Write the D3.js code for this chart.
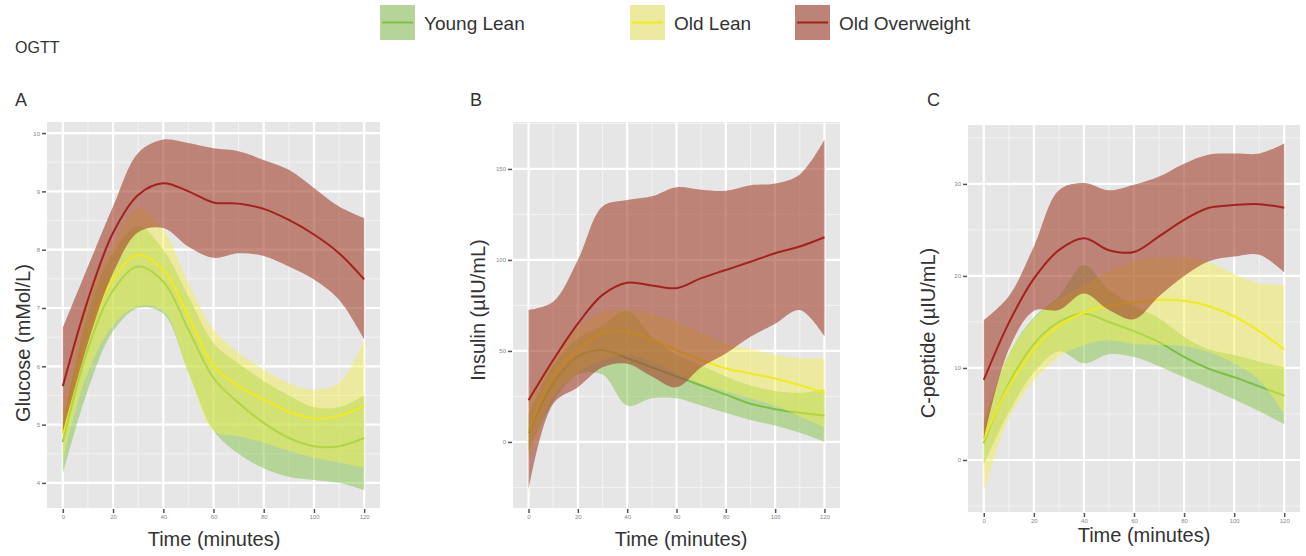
<!DOCTYPE html>
<html>
<head>
<meta charset="utf-8">
<script src="https://cdn.jsdelivr.net/npm/d3@7.9.0/dist/d3.min.js"></script>
<style>
  body { margin: 0; background: #fff; }
  text { font-family: "Liberation Sans", "DejaVu Sans", sans-serif; }
</style>
</head>
<body>
<svg id="chart" width="1306" height="556"></svg>
<script>
const minutes = [0, 10, 20, 30, 40, 50, 60, 70, 80, 90, 100, 110, 120];
const groups = ['Young Lean', 'Old Lean', 'Old Overweight'];

// glucose (mMol/L)
const glucoseYoungMean = [4.7, 6.3, 7.3, 7.71, 7.45, 6.63, 5.8, 5.37, 5.03, 4.77, 4.63, 4.63, 4.77];
const glucoseYoungLow  = [4.15, 5.6, 6.6, 7.0, 6.9, 5.9, 4.9, 4.5, 4.25, 4.1, 4.05, 4.0, 3.88];
const glucoseYoungHigh = [5.0, 6.9, 7.95, 8.4, 8.0, 7.2, 6.4, 6.05, 5.75, 5.5, 5.3, 5.3, 5.5];
const glucoseOldMean   = [4.85, 6.5, 7.5, 7.91, 7.65, 6.86, 6.0, 5.66, 5.43, 5.22, 5.11, 5.15, 5.32];
const glucoseOldLow    = [4.4, 5.9, 6.7, 7.03, 6.95, 5.9, 4.9, 4.8, 4.69, 4.55, 4.43, 4.35, 4.26];
const glucoseOldHigh   = [5.3, 7.1, 8.1, 8.7, 8.35, 7.43, 6.63, 6.23, 5.94, 5.71, 5.6, 5.71, 6.46];
const glucoseOwMean    = [5.66, 7.14, 8.29, 8.94, 9.14, 9.0, 8.81, 8.79, 8.7, 8.51, 8.26, 7.94, 7.49];
const glucoseOwLow     = [4.86, 6.4, 7.6, 8.3, 8.37, 8.05, 7.86, 7.94, 7.89, 7.71, 7.49, 7.14, 6.46];
const glucoseOwHigh    = [6.66, 7.71, 8.74, 9.66, 9.89, 9.83, 9.74, 9.69, 9.54, 9.37, 9.06, 8.74, 8.54];

// insulin (µIU/mL)
const insulinYoungMean = [5, 32, 47, 50.5, 46, 41, 36, 31, 26, 21, 18, 16, 14.5];
const insulinYoungLow  = [-5, 22, 37, 37, 20, 24, 24, 20, 16, 12, 9, 5, 0];
const insulinYoungHigh = [15, 42, 57, 64, 72, 58, 48, 42, 36, 31, 28, 27, 29];
const insulinOldMean   = [5.5, 36, 50.5, 59.7, 60.6, 56, 50.5, 45, 40.4, 37.6, 34.9, 31.2, 27];
const insulinOldLow    = [-10, 25, 38, 45, 48, 44, 38, 32, 28, 24, 20, 14, 8];
const insulinOldHigh   = [25, 46, 63, 71, 73, 70, 66, 60, 54, 51, 48, 46, 46];
const insulinOwMean    = [22.9, 45, 65, 80.8, 87.5, 86, 84.5, 90, 94.5, 99, 103.7, 107.4, 112.5];
const insulinOwLow     = [-26.6, 21, 30, 41, 43, 36, 30, 41, 48.6, 57.8, 65, 72.5, 58];
const insulinOwHigh    = [72.5, 77, 100, 129.4, 133, 135, 140, 138.6, 138, 141, 142, 147, 166];

// C-peptide (µIU/mL)
const cpepYoungMean = [1.8, 8.3, 12.6, 15.0, 15.9, 15.0, 14.0, 12.8, 11.2, 9.9, 9.0, 8.0, 7.0];
const cpepYoungLow  = [-0.5, 5.2, 9.5, 11.8, 10.5, 11.5, 11.2, 10.2, 9.0, 7.8, 6.6, 5.3, 3.9];
const cpepYoungHigh = [4.0, 11.5, 15.5, 17.8, 21.2, 18.5, 16.8, 15.4, 13.4, 12.0, 11.4, 10.7, 10.1];
const cpepOldMean   = [2.3, 8.0, 12.0, 14.6, 16.0, 16.8, 17.1, 17.4, 17.3, 16.7, 15.6, 14.0, 12.0];
const cpepOldLow    = [-3.5, 4.5, 8.6, 11.2, 12.5, 13.0, 12.6, 12.5, 12.4, 11.7, 10.5, 8.7, 5.0];
const cpepOldHigh   = [4.5, 11.5, 15.3, 17.5, 19.0, 20.5, 21.6, 22.0, 22.0, 21.5, 20.2, 19.2, 19.0];
const cpepOwMean    = [8.7, 14.9, 19.7, 22.8, 24.1, 22.8, 22.6, 24.3, 26.1, 27.4, 27.7, 27.8, 27.4];
const cpepOwLow     = [2.2, 12.0, 16.2, 16.3, 18.1, 16.3, 15.3, 17.8, 20.0, 21.6, 22.1, 22.3, 20.4];
const cpepOwHigh    = [15.2, 17.8, 23.2, 29.3, 30.1, 29.3, 29.9, 30.8, 32.2, 33.2, 33.3, 33.3, 34.4];

const xTicks = [0, 20, 40, 60, 80, 100, 120];
const glucoseTicks = [4, 5, 6, 7, 8, 9, 10];
const insulinTicks = [0, 50, 100, 150];
const cpepTicks = [0, 10, 20, 30];

const lineColors = ['#7cc043', '#f2ea1b', '#a3221d'];
const bandColors = ['#80c242', '#f5ef48', '#a3412d'];
const bandOpacity = [0.48, 0.45, 0.6];

const panels = [
  { letter: 'A', title: 'Glucose (mMol/L)', box: [47, 122, 380, 508], y: [3.57, 10.19], ticks: glucoseTicks, minorStep: 0.5,
    series: [[glucoseYoungMean, glucoseYoungLow, glucoseYoungHigh], [glucoseOldMean, glucoseOldLow, glucoseOldHigh], [glucoseOwMean, glucoseOwLow, glucoseOwHigh]],
    letterX: 15, titleX: 30, titleY: 343, xTitleX: 214, xTitleY: 546 },
  { letter: 'B', title: 'Insulin (µIU/mL)', box: [513, 122, 840, 508], y: [-36.3, 175.8], ticks: insulinTicks, minorStep: 25,
    series: [[insulinYoungMean, insulinYoungLow, insulinYoungHigh], [insulinOldMean, insulinOldLow, insulinOldHigh], [insulinOwMean, insulinOwLow, insulinOwHigh]],
    letterX: 470, titleX: 485, titleY: 310, xTitleX: 681, xTitleY: 546 },
  { letter: 'C', title: 'C-peptide (µIU/mL)', box: [968, 125, 1300, 512], y: [-5.65, 36.4], ticks: cpepTicks, minorStep: 5,
    series: [[cpepYoungMean, cpepYoungLow, cpepYoungHigh], [cpepOldMean, cpepOldLow, cpepOldHigh], [cpepOwMean, cpepOwLow, cpepOwHigh]],
    letterX: 927, titleX: 935, titleY: 333, xTitleX: 1144, xTitleY: 542 }
];

const svg = d3.select('#chart');

svg.append('text').attr('x', 15).attr('y', 53).attr('font-size', 16).attr('fill', '#333').text('OGTT');

// legend
const legendX = [380, 630, 795];
groups.forEach((g, i) => {
  const lg = svg.append('g').attr('transform', `translate(${legendX[i]},5)`);
  lg.append('rect').attr('width', 35).attr('height', 35).attr('fill', '#e6e6e6');
  lg.append('rect').attr('width', 35).attr('height', 35).attr('fill', bandColors[i]).attr('fill-opacity', bandOpacity[i]);
  lg.append('line').attr('x1', 2).attr('x2', 33).attr('y1', 17.5).attr('y2', 17.5)
    .attr('stroke', lineColors[i]).attr('stroke-width', 2);
  lg.append('text').attr('x', 44).attr('y', 25).attr('font-size', 19).attr('fill', '#333').text(g);
});

panels.forEach(p => {
  const [x0, y0, x1, y1] = p.box;
  const x = d3.scaleLinear().domain([-6.3, 126.3]).range([x0, x1]);
  const y = d3.scaleLinear().domain(p.y).range([y1, y0]);
  const g = svg.append('g');

  g.append('rect').attr('x', x0).attr('y', y0).attr('width', x1 - x0).attr('height', y1 - y0).attr('fill', '#e6e6e6');

  const minorX = d3.range(10, 120, 20);
  const minorY = d3.range(Math.ceil(p.y[0] / p.minorStep) * p.minorStep, p.y[1], p.minorStep)
    .filter(v => !p.ticks.some(t => Math.abs(t - v) < 1e-9));

  g.selectAll('.minx').data(minorX).join('line')
    .attr('x1', d => x(d)).attr('x2', d => x(d)).attr('y1', y0).attr('y2', y1)
    .attr('stroke', '#f3f3f3').attr('stroke-width', 1);
  g.selectAll('.miny').data(minorY).join('line')
    .attr('y1', d => y(d)).attr('y2', d => y(d)).attr('x1', x0).attr('x2', x1)
    .attr('stroke', '#f3f3f3').attr('stroke-width', 1);
  g.selectAll('.majx').data(xTicks).join('line')
    .attr('x1', d => x(d)).attr('x2', d => x(d)).attr('y1', y0).attr('y2', y1)
    .attr('stroke', '#fff').attr('stroke-width', 2.2);
  g.selectAll('.majy').data(p.ticks).join('line')
    .attr('y1', d => y(d)).attr('y2', d => y(d)).attr('x1', x0).attr('x2', x1)
    .attr('stroke', '#fff').attr('stroke-width', 2.2);

  const curve = d3.curveCatmullRom.alpha(0.5);
  p.series.forEach(([mean, low, high], i) => {
    const area = d3.area().curve(curve)
      .x((d, k) => x(minutes[k])).y0((d, k) => y(low[k])).y1((d, k) => y(high[k]));
    g.append('path').datum(mean).attr('d', area)
      .attr('fill', bandColors[i]).attr('fill-opacity', bandOpacity[i]);
    const line = d3.line().curve(curve).x((d, k) => x(minutes[k])).y(d => y(d));
    g.append('path').datum(mean).attr('d', line)
      .attr('fill', 'none').attr('stroke', lineColors[i]).attr('stroke-width', 2);
  });

  const yAxis = d3.axisLeft(y).tickValues(p.ticks).tickFormat(d3.format('d')).tickSize(4).tickPadding(2);
  const ya = g.append('g').attr('transform', `translate(${x0 - 1},0)`).call(yAxis);
  const xAxis = d3.axisBottom(x).tickValues(xTicks).tickFormat(d3.format('d')).tickSize(4).tickPadding(2);
  const xa = g.append('g').attr('transform', `translate(0,${y1 + 1})`).call(xAxis);
  [ya, xa].forEach(a => {
    a.select('.domain').remove();
    a.selectAll('.tick line').attr('stroke', '#555').attr('stroke-width', 1.5);
    a.selectAll('.tick text').attr('font-size', 6).attr('fill', '#888')
      .style('font-family', '"Liberation Sans", sans-serif');
  });

  g.append('text').attr('x', p.letterX).attr('y', 106).attr('font-size', 18).attr('fill', '#333').text(p.letter);
  g.append('text').attr('transform', `translate(${p.titleX},${p.titleY}) rotate(-90)`)
    .attr('text-anchor', 'middle').attr('font-size', 20).attr('fill', '#333').text(p.title);
  g.append('text').attr('x', p.xTitleX).attr('y', p.xTitleY).attr('text-anchor', 'middle')
    .attr('font-size', 20).attr('fill', '#333').text('Time (minutes)');
});
</script>
</body>
</html>
